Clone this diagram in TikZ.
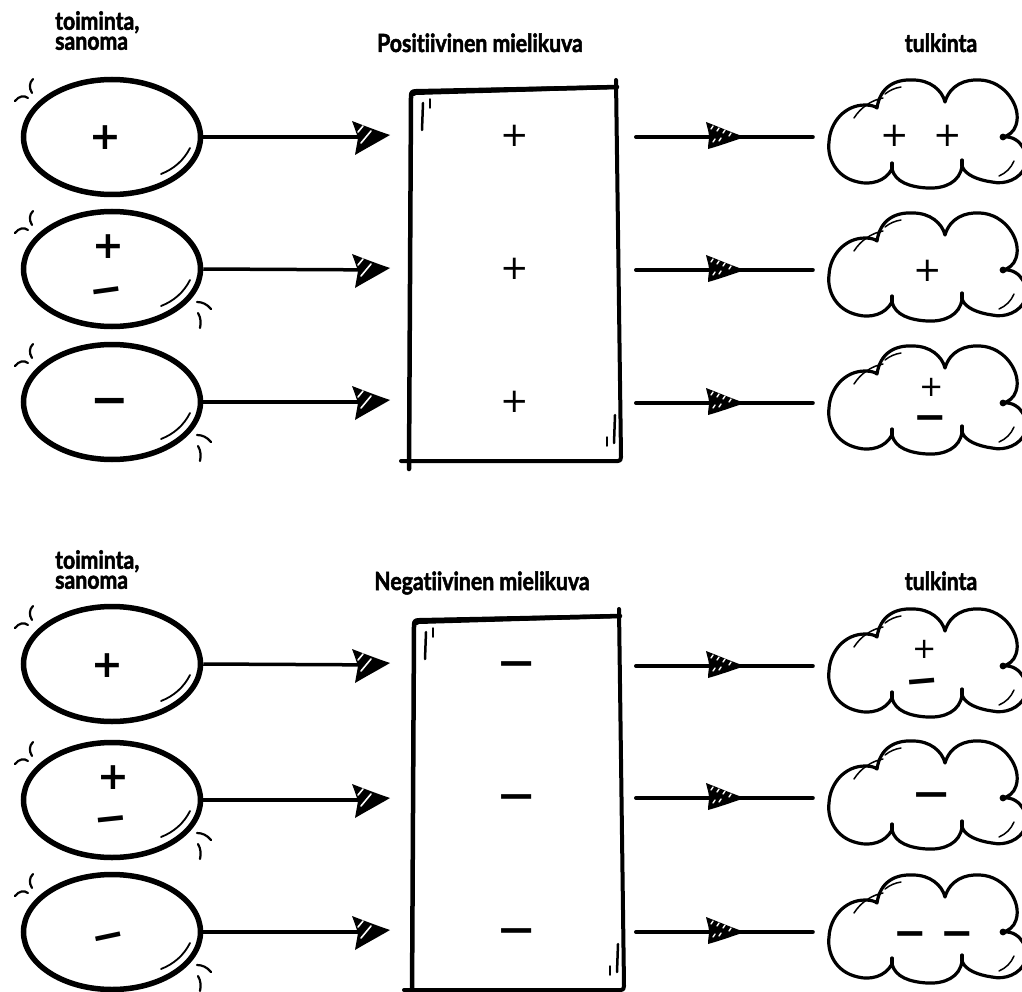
\documentclass[tikz,border=0pt]{standalone}
\usepackage{fontspec}
\setmainfont{Lato}[Ligatures={NoCommon}]
\newfontfamily\hdrf{Lato}[Ligatures={NoCommon}, FakeStretch=0.85, BoldFeatures={FakeBold=2}]
\newfontfamily\symf{DejaVu Sans}
\usetikzlibrary{shapes.geometric}
\begin{document}
\begin{tikzpicture}[x=1pt,y=-1pt,
  hdr/.style={font=\hdrf\bfseries\fontsize{25}{20}\selectfont, inner sep=0pt},
  ell/.style={draw, shape=ellipse, line width=5.5pt, minimum width=177pt, minimum height=115pt, inner sep=0pt},
  board/.style={minimum width=210pt, minimum height=370pt, inner sep=0pt},
  cloudbox/.style={minimum width=202pt, minimum height=108pt, inner sep=0pt},
  lconn/.style={line width=3.5pt, shorten >=14pt},
  rconn/.style={line width=4pt, line cap=round, shorten >=16pt},
  plB/.style={font=\symf\bfseries\fontsize{38}{38}\selectfont, inner sep=0pt, anchor=base, yshift=-11.2pt},
  plS/.style={font=\symf\fontsize{34}{34}\selectfont, inner sep=0pt, anchor=base, yshift=-9.9pt},
  plXS/.style={font=\symf\fontsize{29}{29}\selectfont, inner sep=0pt, anchor=base, yshift=-8.4pt},
  mn/.style={font=\symf\bfseries\fontsize{40}{40}\selectfont, inner sep=0pt, anchor=base, yshift=-11.8pt},
  mnL/.style={font=\symf\bfseries\fontsize{46}{46}\selectfont, inner sep=0pt, anchor=base, yshift=-13.6pt},
  thin/.style={line width=1.5pt, line cap=round},
  tick/.style={line width=2.2pt, line cap=round},
  lhead/.pic={
    \fill (-38,-16) .. controls (-25,-11) and (-12,-6) .. (0,-2) .. controls (-12,5) and (-25,12) .. (-35,18) .. controls (-34,12) and (-33,7) .. (-32,1) .. controls (-34,-5) and (-36,-11) .. (-38,-16) -- cycle;
    \draw[white, line width=1.6pt, line cap=round] (-32,-5) -- (-27,-11) (-29,6) -- (-19,-6);
  },
  rhead/.pic={
    \fill (-39,-15) .. controls (-26,-10) and (-12,-4) .. (0,0) .. controls (-12,4) and (-26,9) .. (-37,12) .. controls (-37,7) and (-36,3) .. (-36,0) .. controls (-36,-5) and (-38,-10) .. (-39,-15) -- cycle;
    \draw[white, line width=1.4pt, line cap=round] (-34,-8)--(-32,-11) (-28,-6)--(-26,-9) (-22,-4)--(-20,-7) (-32,5)--(-30,2) (-26,4)--(-24,1) (-16,-1)--(-14,-4);
  },
  ticksTL/.pic={
    \draw[tick] (-97,-36) .. controls (-93,-41) and (-88,-42) .. (-84,-39)
      (-79,-58) .. controls (-83,-54) and (-83,-49) .. (-80,-44);
    \draw[line width=1.8pt, line cap=round] (49,37) .. controls (62,32) and (72,23) .. (78,11);
  },
  ticksBR/.pic={
    \draw[tick] (85,33) .. controls (90,33) and (95,35) .. (99,40)
      (86,44) .. controls (89,49) and (89,54) .. (88,59);
  },
  cloudshape/.pic={
    \draw[line width=3.2pt, line join=round] (-53,-29) .. controls (-50,-50) and (-35,-58) .. (-17,-57) .. controls (0,-57) and (12,-47) .. (15,-35) .. controls (20,-52) and (35,-58) .. (50,-57) .. controls (75,-56) and (92,-30) .. (86,-12) .. controls (84,-5) and (78,-1) .. (73,0) .. controls (92,-2) and (100,20) .. (95,30) .. controls (90,42) and (75,48) .. (62,45) .. controls (48,43) and (35,38) .. (32,29) .. controls (30,45) and (15,52) .. (-3,51) .. controls (-20,50) and (-35,45) .. (-38,32) .. controls (-45,45) and (-60,48) .. (-72,45) .. controls (-95,40) and (-103,20) .. (-101,5) .. controls (-100,-15) and (-85,-32) .. (-65,-32) .. controls (-60,-32) and (-55,-31) .. (-53,-29) -- cycle;
    \fill (73,0) circle (3.4);
    \draw[line width=3.2pt, line cap=round] (32,29) -- (32,23) (-38,32) -- (-38,26);
    \draw[thin] (-76,-19) .. controls (-69,-30) and (-58,-37) .. (-47,-39)
      (-45,-43) .. controls (-40,-47) and (-35,-49) .. (-29,-50)
      (69,39) .. controls (76,36) and (81,31) .. (84,24);
  },
  boardshape/.pic={
    \fill (-106,-180) .. controls (-106,-185) and (-104,-187) .. (-99,-187) -- (102,-191) -- (102,-187) -- (-99,-181) -- (-101,-180) -- cycle;
    \draw[line width=4.5pt, line cap=round, line join=round] (-106,193) -- (-104,-179) .. controls (-104,-183) and (-103,-184) .. (-99,-184) -- (102,-189);
    \draw[line width=4pt, line cap=round, line join=round] (101,-196) -- (106,181) .. controls (106,184) and (105,185) .. (103,185) -- (-114,185);
    \draw[line width=2.5pt, line cap=round] (-92,-173) -- (-93,-146) (100,139) -- (99,167);
    \draw[line width=1.5pt, line cap=round] (-85,-177) -- (-85,-168) (92,161) -- (92,170);
  }
]
\useasboundingbox (0,0) rectangle (1022,992);
\clip (0,0) rectangle (1022,992);

% ---------- headers ----------
\node[hdr, anchor=north west, align=left] (h1) at (55,11) {toiminta,\\sanoma};
\node[hdr, anchor=base] (h2) at (480,52) {Positiivinen mielikuva};
\node[hdr, anchor=base] (h3) at (941,52) {tulkinta};
\node[hdr, anchor=north west, align=left] (h4) at (55,550) {toiminta,\\sanoma};
\node[hdr, anchor=base] (h5) at (482,590) {Negatiivinen mielikuva};
\node[hdr, anchor=base] (h6) at (941,590) {tulkinta};

% ---------- ellipses ----------
\node[ell] (e1) at (112,137) {};
\node[ell] (e2) at (112,269) {};
\node[ell] (e3) at (112,402) {};
\node[ell] (e4) at (112,664) {};
\node[ell] (e5) at (112,800) {};
\node[ell] (e6) at (112,932) {};
\pic at (e1) {ticksTL};
\pic at (e2) {ticksTL}; \pic at (e2) {ticksBR};
\pic at (e3) {ticksTL}; \pic at (e3) {ticksBR};
\pic at (e4) {ticksTL};
\pic at (e5) {ticksTL}; \pic at (e5) {ticksBR};
\pic at (e6) {ticksTL}; \pic at (e6) {ticksBR};

\node[plB] (ep1) at (105,138) {+};
\node[plB] (ep2) at (108,247) {+};
\node[mn, rotate=8] (em2) at (108,291) {−};
\node[mnL] (em3) at (110,402) {−};
\node[plB] (ep4) at (107,666) {+};
\node[plB] (ep5) at (113,778) {+};
\node[mn, rotate=6] (em5) at (112,820) {−};
\node[mn, rotate=12] (em6) at (111,937) {−};

% ---------- boards ----------
\node[board] (R1) at (515,276) {};
\node[board] (R2) at (518,805) {};
\pic at (R1) {boardshape};
\pic at (R2) {boardshape};
\node[plS] (rp1) at (515,137) {+};
\node[plS] (rp2) at (515,270) {+};
\node[plS] (rp3) at (515,403) {+};
\node[mn] (rm1) at (517,665) {\scalebox{1.2}[1]{−}};
\node[mn] (rm2) at (517,798) {\scalebox{1.2}[1]{−}};
\node[mn] (rm3) at (517,932) {\scalebox{1.2}[1]{−}};

% ---------- clouds ----------
\node[cloudbox] (c1) at (930,137) {};
\node[cloudbox] (c2) at (930,270) {};
\node[cloudbox] (c3) at (930,403) {};
\node[cloudbox] (c4) at (930,666) {};
\node[cloudbox] (c5) at (930,798) {};
\node[cloudbox] (c6) at (930,932) {};
\foreach \c in {c1,c2,c3,c4,c5,c6} {\pic at (\c) {cloudshape};}

\node[plS] (cp1a) at (895,137) {+};
\node[plS] (cp1b) at (948,137) {+};
\node[plS] (cp2) at (928,272) {+};
\node[plXS] (cp3) at (932,388) {+};
\node[mn] (cm3) at (930,419) {−};
\node[plXS] (cp4) at (925,650) {+};
\node[mn, rotate=5] (cm4) at (923,682) {−};
\node[mn] (cm5) at (932,796) {\scalebox{1.2}[1]{−}};
\node[mn] (cm6a) at (910,935) {−};
\node[mn] (cm6b) at (957,935) {−};

% ---------- connectors: ellipse -> board ----------
\coordinate (t1) at (390,137);
\coordinate (t2) at (390,270);
\coordinate (t3) at (390,402);
\coordinate (t4) at (390,665);
\coordinate (t5) at (390,800);
\coordinate (t6) at (390,932);
\draw[lconn] (e1.east) -- (t1);
\draw[lconn] (e2.east) -- (t2);
\draw[lconn] (e3.east) -- (t3);
\draw[lconn] (e4.east) -- (t4);
\draw[lconn] (e5.east) -- (t5);
\draw[lconn] (e6.east) -- (t6);
\foreach \t in {t1,t2,t3,t4,t5,t6} {\pic at (\t) {lhead};}

% ---------- connectors: board -> cloud ----------
\coordinate (s1) at (636,137);
\coordinate (s2) at (636,270);
\coordinate (s3) at (636,403);
\coordinate (s4) at (636,666);
\coordinate (s5) at (636,798);
\coordinate (s6) at (636,932);
\draw[rconn] (s1) -- (c1.west);
\draw[rconn] (s2) -- (c2.west);
\draw[rconn] (s3) -- (c3.west);
\draw[rconn] (s4) -- (c4.west);
\draw[rconn] (s5) -- (c5.west);
\draw[rconn] (s6) -- (c6.west);
\foreach \y in {137,270,403,666,798,932} {\pic at (745,\y) {rhead};}
\end{tikzpicture}
\end{document}
